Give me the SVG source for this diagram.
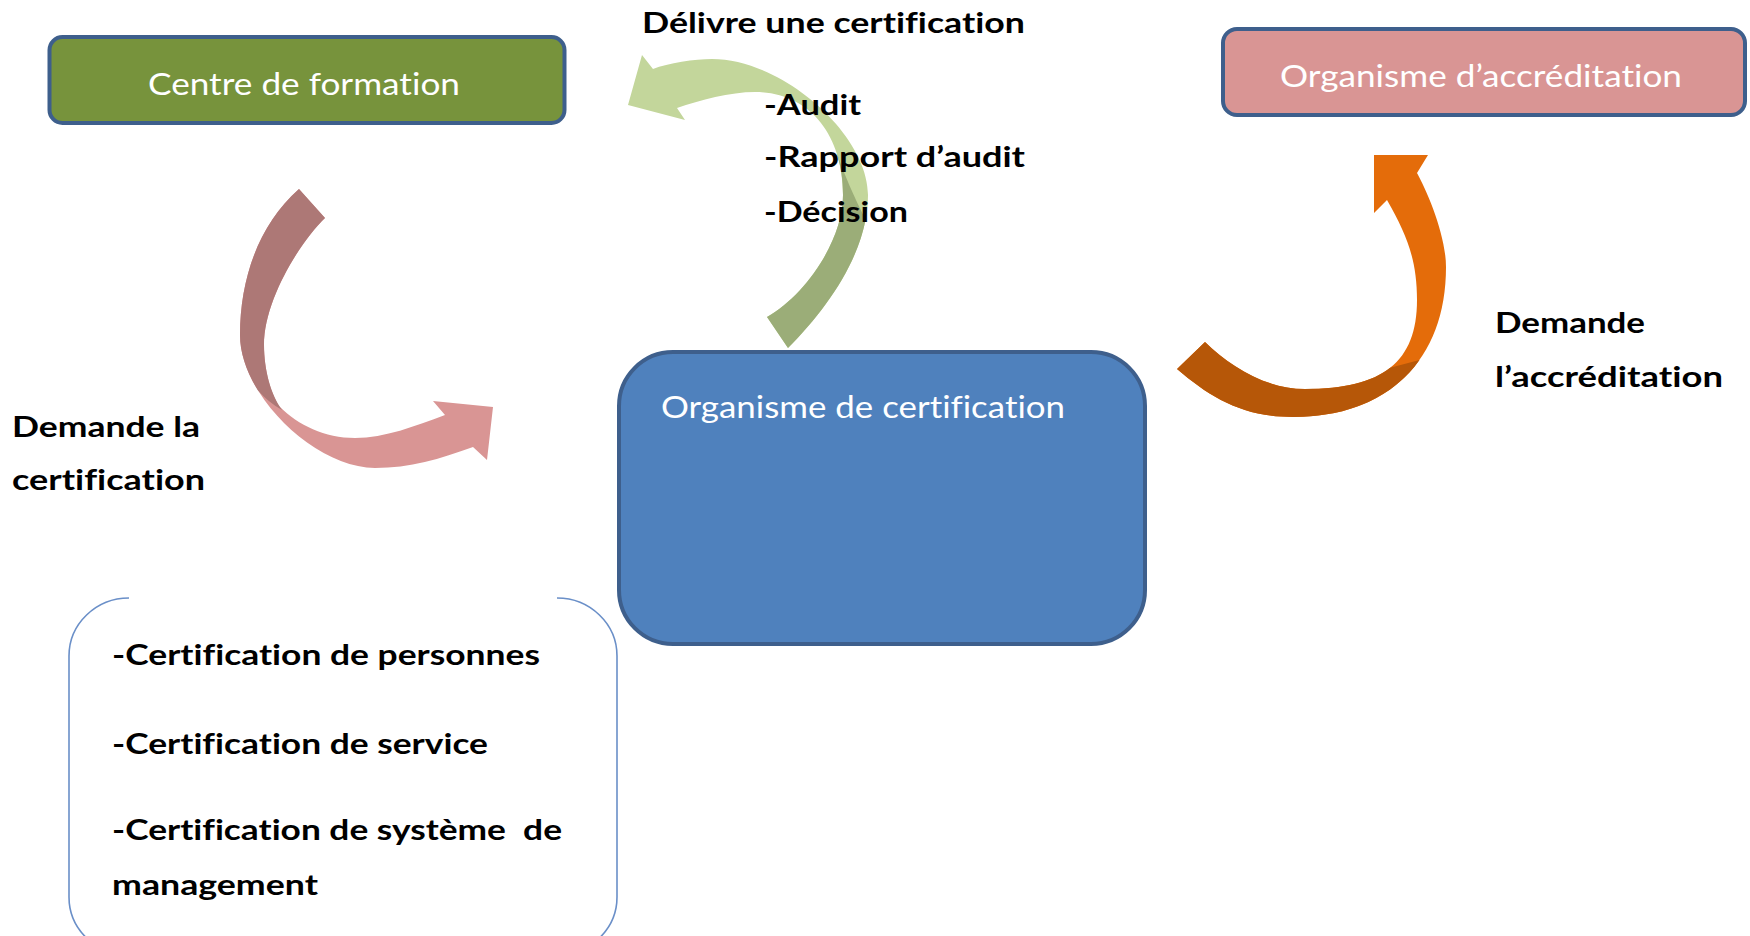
<svg xmlns="http://www.w3.org/2000/svg" width="1750" height="936" viewBox="0 0 1750 936">
<style>
  .lbl{font-family:Lato,"Liberation Sans",sans-serif;font-weight:bold;font-size:29px;fill:#000;font-variant-ligatures:none}
  .bt{font-family:Lato,"Liberation Sans",sans-serif;font-size:31px;fill:#FFFFFF;font-variant-ligatures:none}
  .box{stroke:#3E5F8C;stroke-width:4}
  .brk{fill:none;stroke:#6A8FC8;stroke-width:1.6}
</style>
<rect width="1750" height="936" fill="#FFFFFF"/>

<g id="connectors">
  <g id="arrow-demande-certification">
    <path fill="#D99594" d="M 299,189 C 258,225 240,280 240,335 C 240,395 315,468 375,468 C 410,468 440,459 473,447 L 487,460 L 493,407 L 433,401 L 445,415 C 415,426 385,438 355,438 C 325,438 298,425 280,407 C 271,395 264,370 264,345 C 264,300 300,242 325,218 Z"/>
    <path fill="#AD7876" d="M 299,189 C 258,225 240,280 240,335 C 240,353 246.75,372.2 257.8,390.2 Q 268,402 282,410 C 271,395 264,370 264,345 C 264,300 300,242 325,218 Z"/>
  </g>
  <g id="arrow-delivre-certification">
    <path fill="#C3D69B" d="M 767,317 L 788,348 C 830,306 868,250 868,195 C 868,134 782,59 712,59 C 695,59 668,63 653,69 L 642,55 L 628,105 L 685,120 L 677,108 C 700,100 730,92 755,92 C 808,92 843,133 843,195 C 843,240 806,295 767,317 Z"/>
    <path fill="#9BAD78" d="M 767,317 L 788,348 C 823.7,312.3 856.5,266.5 865.6,219.8 Q 848,185 836.7,152.9 C 840.8,165.3 843,179.5 843,195 C 843,240 806,295 767,317 Z"/>
  </g>
  <g id="arrow-demande-accreditation">
    <path fill="#E46C0A" d="M 1177,369 C 1211,398 1243,417 1293,417 C 1388,417 1446,360 1446,267 C 1446,235 1427,191 1417,173 L 1428,155 L 1374,155 L 1374,213 L 1387,200 C 1407,235 1417,260 1417,300 C 1417,362 1383,389 1305,389 C 1265,389 1230,366 1205,342 Z"/>
    <path fill="#B65708" d="M 1177,369 C 1211,398 1243,417 1293,417 C 1350,417 1393.7,396.5 1419.5,360 L 1390.2,367.8 C 1372,382.2 1344,389 1305,389 C 1265,389 1230,366 1205,342 Z"/>
  </g>
  <text class="lbl" x="642" y="33" textLength="383" lengthAdjust="spacingAndGlyphs">Délivre une certification</text>
  <text class="lbl" x="764" y="115" textLength="97" lengthAdjust="spacingAndGlyphs">-Audit</text>
  <text class="lbl" x="764" y="167" textLength="261" lengthAdjust="spacingAndGlyphs">-Rapport d’audit</text>
  <text class="lbl" x="764" y="222" textLength="144" lengthAdjust="spacingAndGlyphs">-Décision</text>
  <text class="lbl" x="12" y="437" textLength="188" lengthAdjust="spacingAndGlyphs">Demande la</text>
  <text class="lbl" x="12" y="490" textLength="193" lengthAdjust="spacingAndGlyphs">certification</text>
  <text class="lbl" x="1495" y="333" textLength="150" lengthAdjust="spacingAndGlyphs">Demande</text>
  <text class="lbl" x="1495" y="387" textLength="228" lengthAdjust="spacingAndGlyphs">l’accréditation</text>
</g>

<g id="centre-formation">
  <rect class="box" x="49.5" y="37" width="515" height="86" rx="13" fill="#77933C"/>
  <text class="bt" x="148" y="95" textLength="312" lengthAdjust="spacingAndGlyphs">Centre de formation</text>
</g>

<g id="organisme-accreditation">
  <rect class="box" x="1223" y="29" width="522" height="86" rx="14" fill="#D99594"/>
  <text class="bt" x="1280" y="87" textLength="402" lengthAdjust="spacingAndGlyphs">Organisme d’accréditation</text>
</g>

<g id="organisme-certification">
  <rect class="box" x="619" y="352" width="526" height="292" rx="54" fill="#4F81BD"/>
  <text class="bt" x="661" y="418" textLength="404" lengthAdjust="spacingAndGlyphs">Organisme de certification</text>
</g>

<g id="types-certification">
  <path class="brk" d="M 129,598 A 60 58 0 0 0 69,656 L 69,897 A 60 58 0 0 0 129,955"/>
  <path class="brk" d="M 557,598 A 60 58 0 0 1 617,656 L 617,897 A 60 58 0 0 1 557,955"/>
  <text class="lbl" x="112" y="665" textLength="428" lengthAdjust="spacingAndGlyphs">-Certification de personnes</text>
  <text class="lbl" x="112" y="754" textLength="376" lengthAdjust="spacingAndGlyphs">-Certification de service</text>
  <text class="lbl" x="112" y="840" textLength="450" lengthAdjust="spacingAndGlyphs" xml:space="preserve">-Certification de système  de</text>
  <text class="lbl" x="112" y="895" textLength="206" lengthAdjust="spacingAndGlyphs">management</text>
</g>
</svg>
